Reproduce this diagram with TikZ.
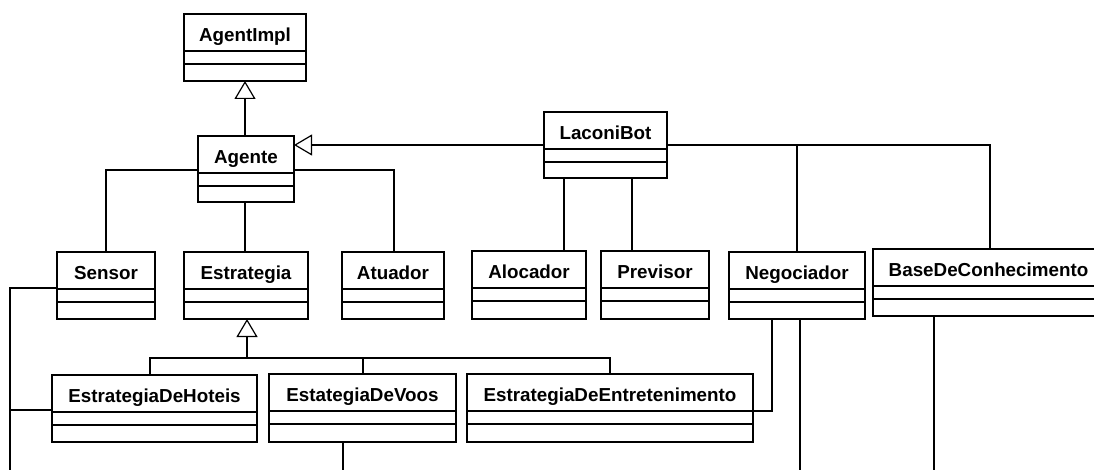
\documentclass[tikz,border=0pt]{standalone}
\usepackage{fontspec}
\setmainfont{Liberation Sans}
\usetikzlibrary{arrows.meta}
\tikzset{
  classbox/.style={draw, line width=2.8pt, inner sep=0pt, outer sep=0pt},
  classname/.style={font=\fontsize{18.8}{21}\selectfont\bfseries, inner sep=0pt, anchor=base},
  divider/.style={line width=1.4pt},
  conn/.style={line width=1.2pt},
  thickconn/.style={line width=2.8pt},
  inherit/.style={conn, -{Triangle[open, length=18pt, width=21pt, line width=1.2pt]}},
}
\newcommand\umlclass[6]{%
  \node[classbox, minimum width={(#5-#3)*1pt}, minimum height={(#6-#4)*1pt}, anchor=north west] (#1) at (#3,#4) {};
  \node[classname] (#1-name) at ({(#3+#5)/2},{#4+27.5}) {#2};
  \draw[divider] (#3,#4+37) -- (#5,#4+37);
  \draw[divider] (#3,#4+50) -- (#5,#4+50);
}
\begin{document}
\begin{tikzpicture}[x=1pt,y=-1pt]
\useasboundingbox (0,0) rectangle (1094,470);
\clip (0,0) rectangle (1094,470);
\fill[white] (0,0) rectangle (1094,470);

\umlclass{AgentImpl}{AgentImpl}{184}{14}{306}{81}
\umlclass{Agente}{Agente}{198}{136}{294}{202}
\umlclass{LaconiBot}{LaconiBot}{544}{112}{667}{178}
\umlclass{Sensor}{Sensor}{57}{252}{155}{319}
\umlclass{Estrategia}{Estrategia}{184}{252}{308}{319}
\umlclass{Atuador}{Atuador}{342}{252}{444}{319}
\umlclass{Alocador}{Alocador}{472}{251}{586}{319}
\umlclass{Previsor}{Previsor}{601}{251}{709}{319}
\umlclass{Negociador}{Negociador}{729}{252}{865}{319}
\umlclass{Base}{BaseDeConhecimento}{873}{249}{1104}{316}
\umlclass{Hoteis}{EstrategiaDeHoteis}{52}{375}{257}{442}
\umlclass{Voos}{EstategiaDeVoos}{269}{374}{456}{442}
\umlclass{Entret}{EstrategiaDeEntretenimento}{467}{374}{753}{442}

% Agente -> AgentImpl
\coordinate (aeX) at (245,0);
\draw[inherit] (aeX |- Agente.north) -- (aeX |- AgentImpl.south);
\draw[conn] (aeX |- Agente.south) -- (aeX |- Estrategia.north);
% Agente -> Sensor / Atuador
\coordinate (sensJ) at (106,170);
\draw[conn] (Agente.west |- sensJ) -- (sensJ) -- (sensJ |- Sensor.north);
\coordinate (atuJ) at (394,170);
\draw[conn] (Agente.east |- atuJ) -- (atuJ) -- (atuJ |- Atuador.north);
% LaconiBot -> Agente
\coordinate (lbY) at (0,145);
\draw[inherit] (LaconiBot.west |- lbY) -- (Agente.east |- lbY);
% LaconiBot -> Base, Negociador
\coordinate (baseJ) at (990,145);
\draw[conn] (LaconiBot.east |- lbY) -- (baseJ) -- (baseJ |- Base.north);
\coordinate (negJ) at (797,145);
\draw[conn] (negJ) -- (negJ |- Negociador.north);
% LaconiBot -> Alocador, Previsor
\coordinate (aloX) at (564,0);
\draw[conn] (aloX |- LaconiBot.south) -- (aloX |- Alocador.north);
\coordinate (preX) at (632,0);
\draw[conn] (preX |- LaconiBot.south) -- (preX |- Previsor.north);
% Estrategia generalization
\coordinate (genJ) at (247,358);
\draw[inherit] (genJ) -- (genJ |- Estrategia.south);
\coordinate (hotJ) at (150,358);
\coordinate (vooJ) at (363,358);
\coordinate (entJ) at (610,358);
\draw[conn] (hotJ |- Hoteis.north) -- (hotJ) -- (entJ) -- (entJ |- Entret.north);
\draw[conn] (vooJ) -- (vooJ |- Voos.north);
% Negociador connectors
\coordinate (negE) at (772,411);
\draw[conn] (negE |- Negociador.south) -- (negE) -- (Entret.east |- negE);
\coordinate (negEnd) at (800,472);
\draw[conn] (negEnd |- Negociador.south) -- (negEnd);
% Base down
\coordinate (baseEnd) at (934,472);
\draw[conn] (baseEnd |- Base.south) -- (baseEnd);
% Voos down
\coordinate (vooEnd) at (343,472);
\draw[conn] (vooEnd |- Voos.south) -- (vooEnd);
% Sensor thick line
\coordinate (sensTop) at (10,288);
\coordinate (sensEnd) at (10,474);
\draw[thickconn] (Sensor.west |- sensTop) -- (sensTop) -- (sensEnd);
\coordinate (hotL) at (10,410);
\draw[conn] (hotL) -- (Hoteis.west |- hotL);
\end{tikzpicture}
\end{document}
